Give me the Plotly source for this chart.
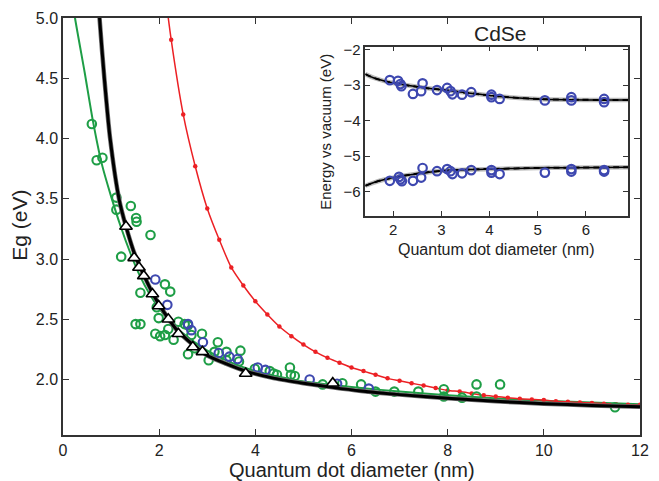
import plotly.graph_objects as go

# ---- main panel: band gap vs diameter ----
# experimental points (green circles)
green_d = [0.60, 0.70, 0.82, 1.11, 1.11, 1.41, 1.52, 1.53, 1.82, 1.21, 1.61, 2.12, 2.23,
           1.51, 1.61, 1.95, 1.99, 1.92, 2.02, 2.12, 2.30, 2.19, 2.40, 2.53, 2.60, 2.67,
           2.89, 2.60, 2.74, 3.03, 3.22, 3.15, 3.40, 3.40, 3.69, 3.66, 3.99, 4.30, 4.38,
           4.72, 4.74, 4.82, 4.45, 5.40, 5.81, 6.20, 6.50, 6.89, 7.39, 7.92, 7.92, 8.30,
           8.60, 8.60, 9.09, 11.48]
green_e = [4.12, 3.82, 3.84, 3.51, 3.41, 3.44, 3.34, 3.31, 3.20, 3.02, 2.72, 2.79, 2.73,
           2.46, 2.46, 2.60, 2.51, 2.38, 2.36, 2.37, 2.33, 2.42, 2.48, 2.46, 2.45, 2.37,
           2.38, 2.21, 2.26, 2.16, 2.31, 2.23, 2.23, 2.16, 2.24, 2.15, 2.09, 2.07, 2.05,
           2.10, 2.04, 2.03, 2.04, 1.96, 1.97, 1.96, 1.90, 1.90, 1.90, 1.92, 1.86, 1.85,
           1.96, 1.86, 1.96, 1.77]

# experimental points (blue circles)
blue_d = [1.92, 2.17, 2.60, 2.67, 2.91, 3.24, 3.46, 3.63, 4.05, 4.21, 5.13, 5.70, 6.36]
blue_e = [2.83, 2.62, 2.46, 2.41, 2.31, 2.22, 2.19, 2.17, 2.10, 2.08, 2.00, 1.965, 1.925]

# computed points (open triangles)
tri_d = [1.31, 1.48, 1.58, 1.68, 1.86, 1.99, 2.19, 2.40, 2.70, 2.90, 3.80, 5.61]
tri_e = [3.27, 3.01, 2.93, 2.86, 2.71, 2.61, 2.50, 2.38, 2.27, 2.23, 2.05, 1.97]

# fit through the green data
gfit_d = [0.20, 0.25, 0.45, 0.62, 0.80, 1.00, 1.20, 1.40, 1.60, 1.80, 2.00, 2.30, 2.60,
          3.00, 3.50, 4.00, 4.90, 5.50, 6.20, 7.00, 8.00, 9.60, 11.0, 12.0]
gfit_e = [5.15, 5.00, 4.55, 4.15, 3.80, 3.52, 3.27, 3.05, 2.86, 2.71, 2.59, 2.45, 2.35,
          2.24, 2.14, 2.07, 1.99, 1.96, 1.93, 1.90, 1.87, 1.83, 1.81, 1.795]

# black model curve
black_d = [0.72, 0.76, 0.86, 0.98, 1.17, 1.31, 1.50, 1.70, 1.90, 2.10, 2.35, 2.70, 3.00,
           3.40, 3.80, 4.40, 5.00, 5.60, 6.20, 7.00, 8.00, 9.00, 10.0, 11.0, 12.0]
black_e = [5.35, 5.00, 4.50, 4.00, 3.49, 3.27, 3.03, 2.85, 2.69, 2.56, 2.42, 2.29, 2.20,
           2.13, 2.07, 2.01, 1.97, 1.935, 1.905, 1.875, 1.845, 1.82, 1.80, 1.785, 1.775]

# red model curve, sampled every 0.25 nm
red_d = [2.00, 2.25, 2.50, 2.75, 3.00, 3.25, 3.50, 3.75, 4.00, 4.25, 4.50, 4.75, 5.00,
         5.25, 5.50, 5.75, 6.00, 6.25, 6.50, 6.75, 7.00, 7.25, 7.50, 7.75, 8.00, 8.25,
         8.50, 8.75, 9.00, 9.25, 9.50, 9.75, 10.0, 10.25, 10.5, 10.75, 11.0, 11.25,
         11.5, 11.75, 12.0]
red_e = [5.60, 4.82, 4.20, 3.77, 3.42, 3.16, 2.93, 2.78, 2.65, 2.54, 2.44, 2.36, 2.29,
         2.23, 2.18, 2.14, 2.10, 2.07, 2.04, 2.01, 1.99, 1.97, 1.95, 1.93, 1.91, 1.90,
         1.885, 1.87, 1.86, 1.85, 1.84, 1.835, 1.83, 1.82, 1.815, 1.81, 1.805, 1.80,
         1.795, 1.79, 1.79]

# ---- inset: CdSe band edges vs vacuum ----
cb_d = [1.93, 2.10, 2.15, 2.17, 2.41, 2.58, 2.61, 2.91, 3.12, 3.19, 3.23, 3.43, 3.62,
        4.04, 4.04, 4.21, 5.15, 5.70, 5.70, 6.38, 6.38]
cb_e = [-2.86, -2.88, -2.97, -3.03, -3.25, -3.17, -2.95, -3.14, -3.08, -3.17, -3.26,
        -3.27, -3.20, -3.27, -3.34, -3.39, -3.43, -3.34, -3.43, -3.39, -3.48]
vb_d = [1.93, 2.12, 2.15, 2.18, 2.41, 2.58, 2.61, 2.91, 3.12, 3.19, 3.23, 3.43, 3.62,
        4.04, 4.04, 4.21, 5.15, 5.70, 5.70, 6.38, 6.38]
vb_e = [-5.69, -5.58, -5.65, -5.70, -5.69, -5.60, -5.33, -5.42, -5.36, -5.42, -5.50,
        -5.48, -5.39, -5.39, -5.46, -5.50, -5.46, -5.36, -5.43, -5.39, -5.43]

cbfit_d = [1.42, 1.60, 1.80, 2.00, 2.25, 2.60, 2.92, 3.30, 3.60, 4.00, 4.30, 5.00, 5.65, 6.88]
cbfit_e = [-2.69, -2.80, -2.88, -2.94, -3.00, -3.07, -3.12, -3.18, -3.23, -3.29, -3.33,
           -3.39, -3.41, -3.42]
vbfit_d = [1.42, 1.60, 1.80, 2.00, 2.25, 2.60, 2.92, 3.30, 3.60, 4.30, 5.00, 5.65, 6.88]
vbfit_e = [-5.83, -5.74, -5.66, -5.60, -5.54, -5.47, -5.42, -5.39, -5.37, -5.35, -5.33,
           -5.32, -5.31]

GREEN = "rgb(30,158,70)"
BLUE = "rgb(62,72,176)"
RED = "rgb(236,32,36)"
FONT = "Liberation Sans, Arial, Helvetica, sans-serif"

fig = go.Figure()

fig.add_trace(go.Scatter(x=gfit_d, y=gfit_e, mode="lines",
                         line=dict(color=GREEN, width=2, shape="spline", smoothing=0.6)))
fig.add_trace(go.Scatter(x=red_d, y=red_e, mode="lines+markers",
                         line=dict(color=RED, width=1.5, shape="spline", smoothing=0.6),
                         marker=dict(color=RED, size=4.5, symbol="circle")))
fig.add_trace(go.Scatter(x=green_d, y=green_e, mode="markers",
                         marker=dict(symbol="circle-open", size=8.5, color=GREEN,
                                     line=dict(width=2.1, color=GREEN))))
fig.add_trace(go.Scatter(x=blue_d, y=blue_e, mode="markers",
                         marker=dict(symbol="circle-open", size=8.5, color=BLUE,
                                     line=dict(width=2.1, color=BLUE))))
fig.add_trace(go.Scatter(x=black_d, y=black_e, mode="lines",
                         line=dict(color="rgb(110,110,110)", width=4.5, shape="spline",
                                   smoothing=0.6)))
fig.add_trace(go.Scatter(x=black_d, y=black_e, mode="lines",
                         line=dict(color="black", width=3, shape="spline", smoothing=0.6)))
fig.add_trace(go.Scatter(x=tri_d, y=tri_e, mode="markers",
                         marker=dict(symbol="triangle-up", size=11, color="white",
                                     line=dict(width=1.6, color="black"))))

# inset traces
for fd, fe in ((cbfit_d, cbfit_e), (vbfit_d, vbfit_e)):
    fig.add_trace(go.Scatter(x=fd, y=fe, mode="lines", xaxis="x2", yaxis="y2",
                             line=dict(color="rgb(185,185,185)", width=4.5, shape="spline")))
    fig.add_trace(go.Scatter(x=fd, y=fe, mode="lines", xaxis="x2", yaxis="y2",
                             line=dict(color="black", width=1.5, shape="spline")))
    fig.add_trace(go.Scatter(x=fd, y=fe, mode="lines", xaxis="x2", yaxis="y2",
                             line=dict(color="black", width=2, dash="6px,4px", shape="spline")))
for pd_, pe in ((cb_d, cb_e), (vb_d, vb_e)):
    fig.add_trace(go.Scatter(x=pd_, y=pe, mode="markers", xaxis="x2", yaxis="y2",
                             marker=dict(symbol="circle-open", size=8.5, color=BLUE,
                                         line=dict(width=2.2, color=BLUE))))

axis_common = dict(showgrid=False, zeroline=False, showline=True, linecolor="#333",
                   linewidth=1.5, mirror="ticks", ticks="inside", tickcolor="#333",
                   tickwidth=1.2)

fig.update_layout(
    width=659, height=481,
    margin=dict(l=63, r=10, t=13, b=46),
    paper_bgcolor="white", plot_bgcolor="white",
    showlegend=False,
    font=dict(family=FONT, color="#222", size=16),
    xaxis=dict(range=[0, 12], tickvals=[0, 2, 4, 6, 8, 10, 12], ticklen=6,
               tickfont=dict(size=16), **axis_common),
    yaxis=dict(range=[1.54, 5.0], tickvals=[2.0, 2.5, 3.0, 3.5, 4.0, 4.5, 5.0],
               tickformat=".1f", ticklen=6, tickfont=dict(size=16), **axis_common),
    xaxis2=dict(domain=[0.5239, 0.9795], anchor="y2", range=[1.42, 6.88],
                tickvals=[2, 3, 4, 5, 6], ticklen=5, tickfont=dict(size=15), **axis_common),
    yaxis2=dict(domain=[0.526, 0.9313], anchor="x2", range=[-6.67, -1.92],
                tickvals=[-6, -5, -4, -3, -2], ticklen=5, tickfont=dict(size=15),
                **axis_common),
    annotations=[
        dict(text="Quantum dot diameter (nm)", x=0.5, y=0, xref="paper", yref="paper",
             yshift=-48, xanchor="center", yanchor="bottom", showarrow=False,
             font=dict(size=20)),
        dict(text="Eg (eV)", x=0, y=0.502, xref="paper", yref="paper", xshift=-43,
             xanchor="center", yanchor="middle", textangle=-90, showarrow=False,
             font=dict(size=21)),
        dict(text="CdSe", x=0.758, y=0.964, xref="paper", yref="paper",
             xanchor="center", yanchor="middle", showarrow=False, font=dict(size=21)),
        dict(text="Quantum dot diameter (nm)", x=0.751, y=0.445, xref="paper", yref="paper",
             xanchor="center", yanchor="middle", showarrow=False, font=dict(size=16)),
        dict(text="Energy vs vacuum (eV)", x=0.4556, y=0.727, xref="paper", yref="paper",
             xanchor="center", yanchor="middle", textangle=-90, showarrow=False,
             font=dict(size=15)),
    ],
)

fig.write_html("out.html")
